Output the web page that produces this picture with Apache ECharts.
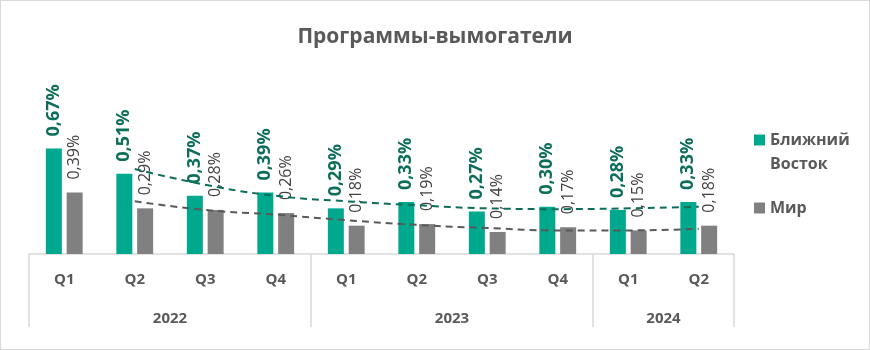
<!DOCTYPE html>
<html><head><meta charset="utf-8">
<script src="https://cdn.jsdelivr.net/npm/echarts@6/dist/echarts.min.js"></script>
<style>html,body{margin:0;padding:0;background:#fff}#c{width:870px;height:350px;box-sizing:border-box;border:1px solid #D9D9D9}</style>
</head><body><div id="c"></div>
<script>
const quarters = ['Q1','Q2','Q3','Q4','Q1','Q2','Q3','Q4','Q1','Q2'];
const years = ['2022','2023','2024'];
const yearSpans = [4,4,2];
const middleEast = [0.67,0.51,0.37,0.39,0.29,0.33,0.27,0.30,0.28,0.33];
const world = [0.39,0.29,0.28,0.26,0.18,0.19,0.14,0.17,0.15,0.18];
const middleEastTrend = [null,0.54,0.44,0.37,0.335,0.31,0.29,0.285,0.29,0.30];
const worldTrend = [null,0.335,0.28,0.25,0.215,0.185,0.165,0.15,0.15,0.16];
const names = ['Ближний Восток','Мир'];

const bounds = [0]; yearSpans.forEach(s => bounds.push(bounds[bounds.length-1]+s));
const mids = yearSpans.map((s,i) => bounds[i] + s/2);
const fmt = v => v.toFixed(2).replace('.', ',') + '%';
const FONT = '"Open Sans", sans-serif';

const chart = echarts.init(document.getElementById('c'));
chart.setOption({
  animation: false,
  title: {text: 'Программы-вымогатели', left: 'center', top: 21,
    textStyle: {fontFamily: FONT, fontSize: 21, fontWeight: 'bold', color: '#595959'}},
  grid: {left: 28, right: 135, top: 60, bottom: 95},
  legend: [
    {data: [names[0]], orient: 'vertical', left: 748, top: 98, itemWidth: 11, itemHeight: 11, icon: 'rect',
     formatter: () => ' \nБлижний\nВосток',
     textStyle: {fontFamily: FONT, fontSize: 16, fontWeight: 'bold', color: '#595959', lineHeight: 24}},
    {data: [names[1]], orient: 'vertical', left: 748, top: 194, itemWidth: 11, itemHeight: 11, icon: 'rect',
     textStyle: {fontFamily: FONT, fontSize: 16, fontWeight: 'bold', color: '#595959'}}
  ],
  xAxis: [
    {type: 'category', data: quarters, position: 'bottom',
     axisLine: {lineStyle: {color: '#D9D9D9', width: 1.5}}, axisTick: {show: false},
     axisLabel: {margin: 18, fontFamily: FONT, fontSize: 15, fontWeight: 'bold', color: '#595959'}},
    {type: 'value', min: 0, max: bounds[bounds.length-1], position: 'bottom',
     axisLine: {show: false}, splitLine: {show: false},
     axisTick: {show: true, customValues: bounds, length: 73, lineStyle: {color: '#D9D9D9', width: 1.5}},
     axisLabel: {customValues: mids, margin: 57, fontFamily: FONT, fontSize: 15, fontWeight: 'bold', color: '#595959',
       formatter: v => years[mids.indexOf(v)]}}
  ],
  yAxis: {type: 'value', min: 0, max: 1.226, show: false},
  series: [
    {name: names[0], type: 'bar', data: middleEast, barWidth: 16, barGap: '30%', itemStyle: {color: '#00A88E'},
     label: {show: true, position: 'top', rotate: 90, align: 'left', verticalAlign: 'middle', distance: 12,
       formatter: p => fmt(p.value), fontFamily: FONT, fontSize: 18, fontWeight: 'bold', color: '#0C6E5A'}},
    {name: names[1], type: 'bar', data: world, barWidth: 16, itemStyle: {color: '#808080'},
     label: {show: true, position: 'top', rotate: 90, align: 'left', verticalAlign: 'middle', distance: 13,
       formatter: p => fmt(p.value), fontFamily: FONT, fontSize: 16, color: '#404040'}},
    {type: 'line', data: middleEastTrend, smooth: true, symbol: 'none', z: 5,
     lineStyle: {color: '#0B6E5A', width: 2, type: [7,5]}},
    {type: 'line', data: worldTrend, smooth: true, symbol: 'none', z: 5,
     lineStyle: {color: '#595959', width: 2, type: [7,5]}}
  ]
});
</script></body></html>
